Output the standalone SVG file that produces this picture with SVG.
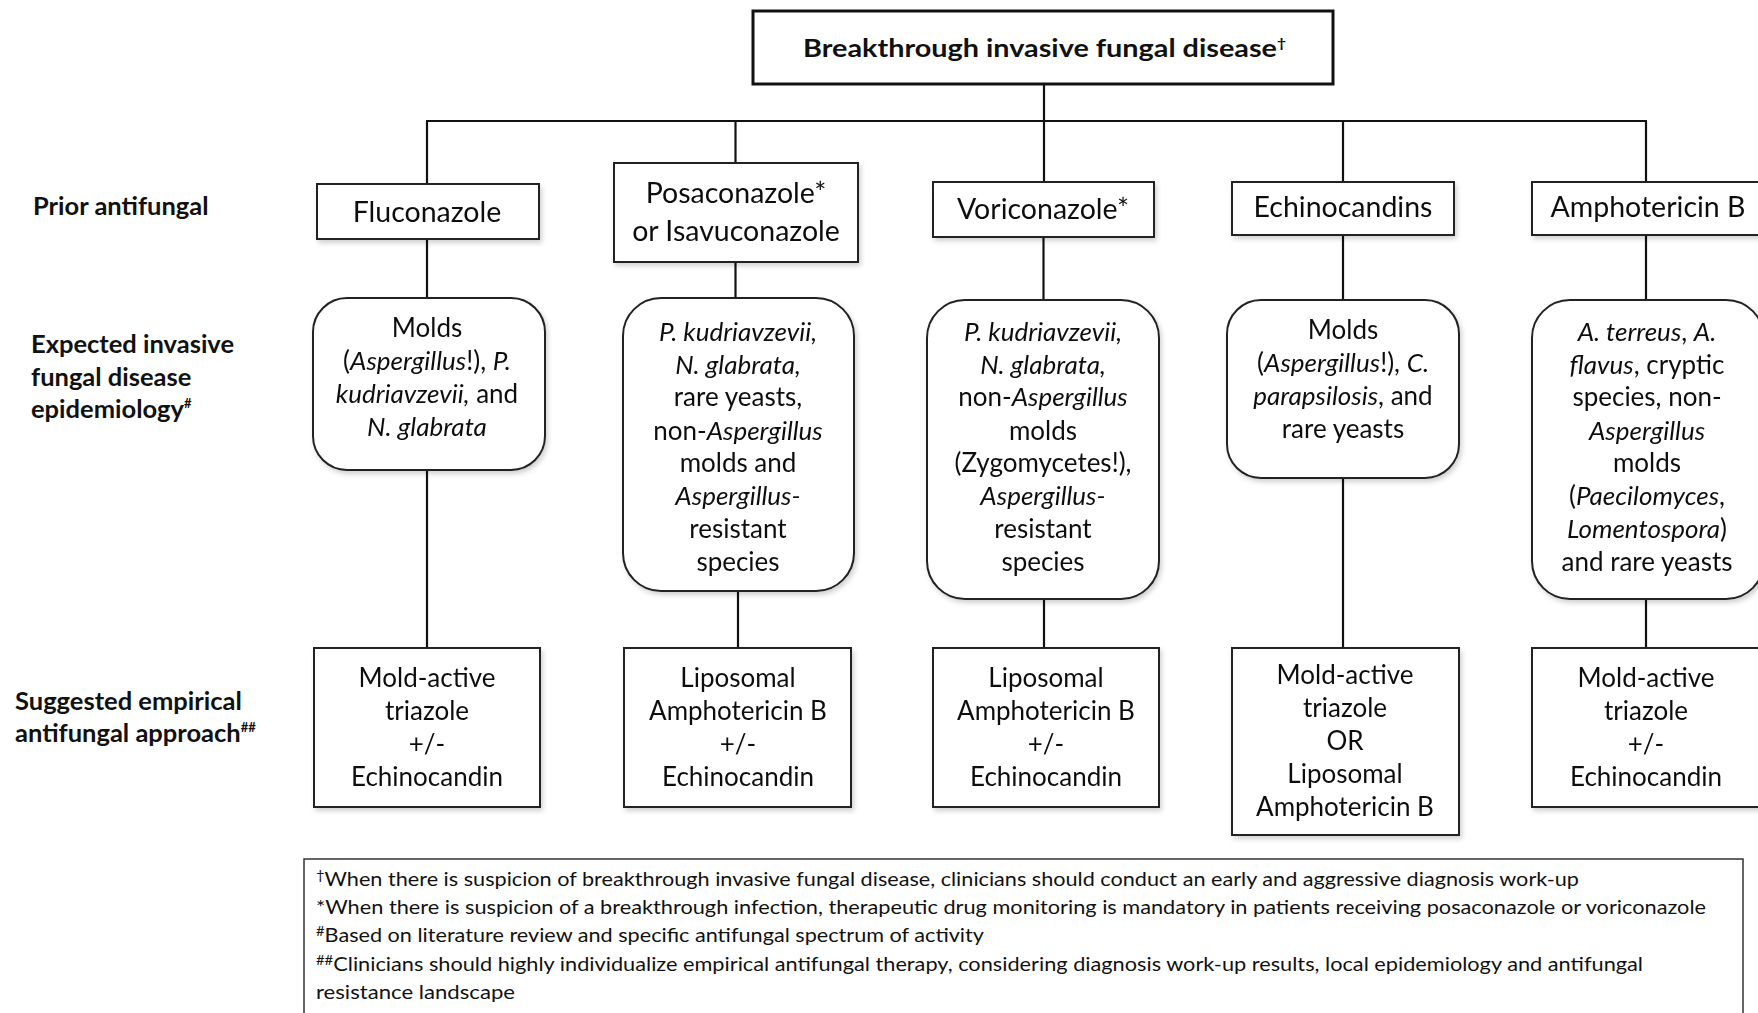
<svg xmlns="http://www.w3.org/2000/svg" width="1758" height="1013" viewBox="0 0 1758 1013">
<style>
text{font-family:Lato,"Liberation Sans",sans-serif;fill:#111}
.n{font-size:26px;text-anchor:middle}
.d{font-size:28.5px;text-anchor:middle}
.lbl{font-size:25.5px;font-weight:bold}
.fn{font-size:19px}
.i{font-style:italic}
.sup{font-size:13px}
.box{fill:#fff;stroke:#222;stroke-width:2}
.con line{stroke:#111;stroke-width:2.2}
</style>
<defs>
<filter id="sh" x="-10%" y="-10%" width="130%" height="130%">
<feDropShadow dx="2" dy="3" stdDeviation="2.5" flood-color="#000" flood-opacity="0.18"/>
</filter>
</defs>
<rect width="1758" height="1013" fill="#fff"/>

<g class="con">
<line x1="1044" y1="84" x2="1044" y2="121"/>
<line x1="426" y1="121" x2="1647" y2="121"/>
<line x1="427" y1="121" x2="427" y2="184"/>
<line x1="735.5" y1="121" x2="735.5" y2="163"/>
<line x1="1044" y1="121" x2="1044" y2="182"/>
<line x1="1343" y1="121" x2="1343" y2="182"/>
<line x1="1646" y1="121" x2="1646" y2="182"/>
<line x1="427" y1="239" x2="427" y2="298"/>
<line x1="735.5" y1="262" x2="735.5" y2="298"/>
<line x1="1043.5" y1="237" x2="1043.5" y2="300"/>
<line x1="1343" y1="235" x2="1343" y2="300"/>
<line x1="1646" y1="235" x2="1646" y2="300"/>
<line x1="427" y1="470" x2="427" y2="648"/>
<line x1="738" y1="591" x2="738" y2="648"/>
<line x1="1044" y1="599" x2="1044" y2="648"/>
<line x1="1343" y1="478" x2="1343" y2="648"/>
<line x1="1646" y1="599" x2="1646" y2="648"/>
</g>

<g id="title">
<rect x="753" y="11" width="580" height="73" fill="#fff" stroke="#111" stroke-width="3"/>
<text x="803" y="57" font-size="24" font-weight="bold" textLength="483" lengthAdjust="spacingAndGlyphs">Breakthrough  invasive  fungal  disease<tspan class="sup" dy="-9">†</tspan></text>
</g>

<g id="labels">
<text class="lbl" x="33" y="215">Prior antifungal</text>
<text class="lbl" x="31" y="353">Expected invasive</text>
<text class="lbl" x="31" y="386">fungal disease</text>
<text class="lbl" x="31" y="418">epidemiology<tspan class="sup" dy="-10">#</tspan></text>
<text class="lbl" x="15" y="710">Suggested empirical</text>
<text class="lbl" x="15" y="742">antifungal approach<tspan class="sup" dy="-10">##</tspan></text>
</g>

<g id="drug1" filter="url(#sh)">
<rect class="box" x="317" y="184" width="222" height="55"/>
<text class="d" x="427" y="222">Fluconazole</text>
</g>
<g id="drug2" filter="url(#sh)">
<rect class="box" x="614" y="163" width="244" height="99"/>
<text class="d" x="736" y="203">Posaconazole*</text>
<text class="d" x="736" y="241">or  Isavuconazole</text>
</g>
<g id="drug3" filter="url(#sh)">
<rect class="box" x="933" y="182" width="221" height="55"/>
<text class="d" x="1043" y="219">Voriconazole*</text>
</g>
<g id="drug4" filter="url(#sh)">
<rect class="box" x="1232" y="182" width="222" height="53"/>
<text class="d" x="1343" y="217">Echinocandins</text>
</g>
<g id="drug5" filter="url(#sh)">
<rect class="box" x="1532" y="182" width="230" height="53"/>
<text class="d" x="1648" y="217">Amphotericin  B</text>
</g>

<g id="epi1" filter="url(#sh)">
<rect class="box" x="313" y="298" width="232" height="172" rx="34"/>
<text class="n" x="427" y="337">Molds</text>
<text class="n" x="427" y="370">(<tspan class="i">Aspergillus</tspan>!), <tspan class="i">P.</tspan></text>
<text class="n" x="427" y="403"><tspan class="i">kudriavzevii,</tspan> and</text>
<text class="n" x="427" y="436"><tspan class="i">N. glabrata</tspan></text>
</g>
<g id="epi2" filter="url(#sh)">
<rect class="box" x="623" y="298" width="231" height="293" rx="38"/>
<text class="n" x="738" y="341"><tspan class="i">P. kudriavzevii,</tspan></text>
<text class="n" x="738" y="374"><tspan class="i">N. glabrata,</tspan></text>
<text class="n" x="738" y="406">rare yeasts,</text>
<text class="n" x="738" y="440">non-<tspan class="i">Aspergillus</tspan></text>
<text class="n" x="738" y="472">molds and</text>
<text class="n" x="738" y="505"><tspan class="i">Aspergillus-</tspan></text>
<text class="n" x="738" y="538">resistant</text>
<text class="n" x="738" y="571">species</text>
</g>
<g id="epi3" filter="url(#sh)">
<rect class="box" x="927" y="300" width="232" height="299" rx="38"/>
<text class="n" x="1043" y="341"><tspan class="i">P. kudriavzevii,</tspan></text>
<text class="n" x="1043" y="374"><tspan class="i">N. glabrata,</tspan></text>
<text class="n" x="1043" y="406">non-<tspan class="i">Aspergillus</tspan></text>
<text class="n" x="1043" y="440">molds</text>
<text class="n" x="1043" y="472">(Zygomycetes!),</text>
<text class="n" x="1043" y="505"><tspan class="i">Aspergillus-</tspan></text>
<text class="n" x="1043" y="538">resistant</text>
<text class="n" x="1043" y="571">species</text>
</g>
<g id="epi4" filter="url(#sh)">
<rect class="box" x="1227" y="300" width="232" height="178" rx="34"/>
<text class="n" x="1343" y="339">Molds</text>
<text class="n" x="1343" y="372">(<tspan class="i">Aspergillus</tspan>!), <tspan class="i">C.</tspan></text>
<text class="n" x="1343" y="405"><tspan class="i">parapsilosis</tspan>, and</text>
<text class="n" x="1343" y="438">rare yeasts</text>
</g>
<g id="epi5" filter="url(#sh)">
<rect class="box" x="1532" y="300" width="232" height="299" rx="38"/>
<text class="n" x="1647" y="341"><tspan class="i">A. terreus</tspan>, <tspan class="i">A.</tspan></text>
<text class="n" x="1647" y="374"><tspan class="i">flavus</tspan>, cryptic</text>
<text class="n" x="1647" y="406">species,  non-</text>
<text class="n" x="1647" y="440"><tspan class="i">Aspergillus</tspan></text>
<text class="n" x="1647" y="472">molds</text>
<text class="n" x="1647" y="505">(<tspan class="i">Paecilomyces</tspan>,</text>
<text class="n" x="1647" y="538"><tspan class="i">Lomentospora</tspan>)</text>
<text class="n" x="1647" y="571">and rare yeasts</text>
</g>

<g id="tx1" filter="url(#sh)">
<rect class="box" x="314" y="648" width="226" height="159"/>
<text class="n" x="427" y="687">Mold-active</text>
<text class="n" x="427" y="720">triazole</text>
<text class="n" x="427" y="753">+/-</text>
<text class="n" x="427" y="786">Echinocandin</text>
</g>
<g id="tx2" filter="url(#sh)">
<rect class="box" x="624" y="648" width="227" height="159"/>
<text class="n" x="738" y="687">Liposomal</text>
<text class="n" x="738" y="720">Amphotericin B</text>
<text class="n" x="738" y="753">+/-</text>
<text class="n" x="738" y="786">Echinocandin</text>
</g>
<g id="tx3" filter="url(#sh)">
<rect class="box" x="933" y="648" width="226" height="159"/>
<text class="n" x="1046" y="687">Liposomal</text>
<text class="n" x="1046" y="720">Amphotericin B</text>
<text class="n" x="1046" y="753">+/-</text>
<text class="n" x="1046" y="786">Echinocandin</text>
</g>
<g id="tx4" filter="url(#sh)">
<rect class="box" x="1232" y="648" width="227" height="187"/>
<text class="n" x="1345" y="684">Mold-active</text>
<text class="n" x="1345" y="717">triazole</text>
<text class="n" x="1345" y="750">OR</text>
<text class="n" x="1345" y="783">Liposomal</text>
<text class="n" x="1345" y="816">Amphotericin B</text>
</g>
<g id="tx5" filter="url(#sh)">
<rect class="box" x="1532" y="648" width="230" height="159"/>
<text class="n" x="1646" y="687">Mold-active</text>
<text class="n" x="1646" y="720">triazole</text>
<text class="n" x="1646" y="753">+/-</text>
<text class="n" x="1646" y="786">Echinocandin</text>
</g>

<g id="footnotes">
<rect x="304" y="859" width="1439" height="170" fill="#fff" stroke="#333" stroke-width="1.5"/>
<text class="fn" x="316" y="886" textLength="1263" lengthAdjust="spacingAndGlyphs"><tspan class="sup" dy="-6">†</tspan><tspan dy="6">When there is suspicion of breakthrough  invasive fungal disease, clinicians should conduct an early and aggressive diagnosis work-up</tspan></text>
<text class="fn" x="316" y="914" textLength="1390" lengthAdjust="spacingAndGlyphs">*When there is suspicion of a breakthrough  infection, therapeutic drug monitoring  is mandatory  in patients receiving posaconazole or voriconazole</text>
<text class="fn" x="316" y="942" textLength="668" lengthAdjust="spacingAndGlyphs"><tspan class="sup" dy="-6">#</tspan><tspan dy="6">Based on literature review and specific antifungal spectrum of activity</tspan></text>
<text class="fn" x="316" y="971" textLength="1327" lengthAdjust="spacingAndGlyphs"><tspan class="sup" dy="-6">##</tspan><tspan dy="6">Clinicians should highly individualize empirical antifungal therapy, considering diagnosis work-up results, local epidemiology and antifungal</tspan></text>
<text class="fn" x="316" y="999" textLength="199" lengthAdjust="spacingAndGlyphs">resistance landscape</text>
</g>
</svg>
